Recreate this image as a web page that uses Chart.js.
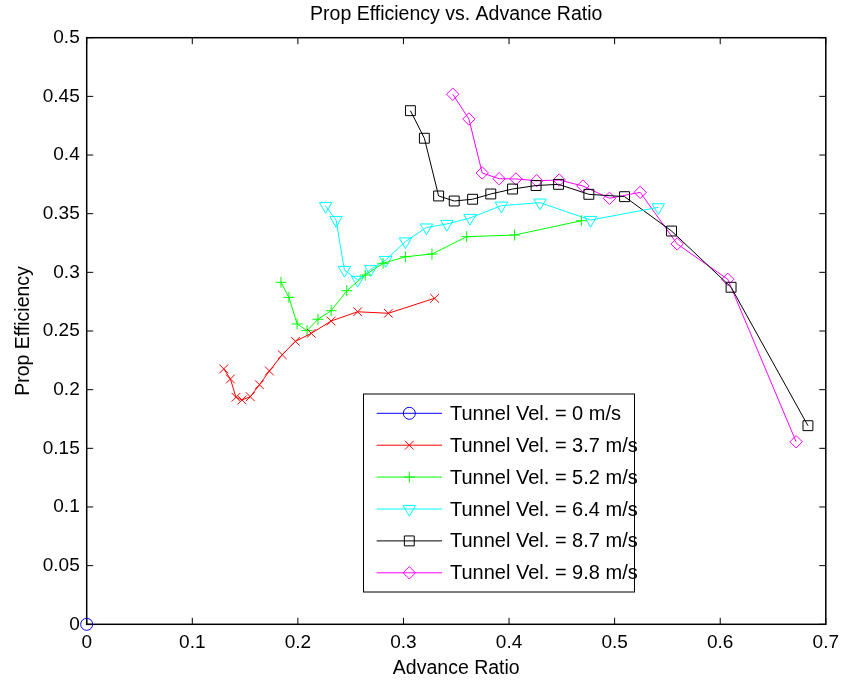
<!DOCTYPE html>
<html>
<head>
<meta charset="utf-8">
<title>Prop Efficiency vs. Advance Ratio</title>
<script src="https://cdn.jsdelivr.net/npm/chart.js@4/dist/chart.umd.min.js"></script>
<style>
  html, body { margin: 0; padding: 0; background: #fff; }
</style>
</head>
<body>
<canvas id="propChart" width="846" height="680"></canvas>
<script>
// advance ratio (J) and prop efficiency for every tunnel velocity
const jV00 = [0];
const etaV00 = [0];

const jV37 = [0.1298, 0.1361, 0.1414, 0.1470, 0.1549, 0.1636, 0.1730, 0.1852, 0.1977, 0.2127, 0.2315, 0.2566, 0.2857, 0.3295];
const etaV37 = [0.2177, 0.2091, 0.1935, 0.1912, 0.1940, 0.2042, 0.2159, 0.2298, 0.2412, 0.2480, 0.2585, 0.2664, 0.2651, 0.2779];

const jV52 = [0.1840, 0.1915, 0.1993, 0.2087, 0.2190, 0.2315, 0.2463, 0.2638, 0.2807, 0.3019, 0.3270, 0.3599, 0.4052, 0.4685];
const etaV52 = [0.2915, 0.2787, 0.2560, 0.2503, 0.2600, 0.2673, 0.2843, 0.2977, 0.3077, 0.3133, 0.3156, 0.3304, 0.3318, 0.3440];

const jV64 = [0.2263, 0.2362, 0.2441, 0.2566, 0.2691, 0.2832, 0.3019, 0.3218, 0.3411, 0.3630, 0.3927, 0.4293, 0.4772, 0.5414];
const etaV64 = [0.3565, 0.3446, 0.3020, 0.2935, 0.3026, 0.3105, 0.3263, 0.3382, 0.3412, 0.3463, 0.3568, 0.3594, 0.3446, 0.3554];

const jV87 = [0.3066, 0.3198, 0.3333, 0.3481, 0.3655, 0.3827, 0.4033, 0.4256, 0.4469, 0.4756, 0.5094, 0.5539, 0.6103, 0.6831];
const etaV87 = [0.4378, 0.4143, 0.3651, 0.3608, 0.3623, 0.3668, 0.3710, 0.3740, 0.3750, 0.3665, 0.3645, 0.3352, 0.2873, 0.1693];

const jV98 = [0.3467, 0.3620, 0.3746, 0.3906, 0.4065, 0.4262, 0.4475, 0.4700, 0.4951, 0.5242, 0.5592, 0.6071, 0.6719];
const etaV98 = [0.4518, 0.4307, 0.3847, 0.3798, 0.3796, 0.3781, 0.3787, 0.3736, 0.3631, 0.3682, 0.3242, 0.2941, 0.1556];

const seriesLabels = [
  'Tunnel Vel. = 0 m/s',
  'Tunnel Vel. = 3.7 m/s',
  'Tunnel Vel. = 5.2 m/s',
  'Tunnel Vel. = 6.4 m/s',
  'Tunnel Vel. = 8.7 m/s',
  'Tunnel Vel. = 9.8 m/s'
];
const xTickValues = [0, 0.1, 0.2, 0.3, 0.4, 0.5, 0.6, 0.7];
const yTickValues = [0, 0.05, 0.1, 0.15, 0.2, 0.25, 0.3, 0.35, 0.4, 0.45, 0.5];

// styles (matlab-ish markers)
const FONT = '"Liberation Sans", Arial, Helvetica, sans-serif';
const lineStyles = [
  { color: '#0000ff', marker: 'circle', radius: 6, rotation: 0 },
  { color: '#ff0000', marker: 'crossRot', radius: 6.2, rotation: 0 },
  { color: '#00ff00', marker: 'cross', radius: 5.5, rotation: 0 },
  { color: '#00ffff', marker: 'triangle', radius: 7.2, rotation: 180 },
  { color: '#000000', marker: 'rect', radius: 7, rotation: 0 },
  { color: '#ff00ff', marker: 'rectRot', radius: 6.2, rotation: 0 }
];

const xSeries = [jV00, jV37, jV52, jV64, jV87, jV98];
const ySeries = [etaV00, etaV37, etaV52, etaV64, etaV87, etaV98];

function fmtTick(v) {
  return String(Number(v.toFixed(2)));
}

const datasets = xSeries.map((xs, i) => ({
  label: seriesLabels[i],
  data: xs.map((x, k) => ({ x: x, y: ySeries[i][k] })),
  showLine: true,
  borderColor: lineStyles[i].color,
  borderWidth: 1,
  backgroundColor: 'transparent',
  pointStyle: lineStyles[i].marker,
  pointRadius: lineStyles[i].radius,
  pointRotation: lineStyles[i].rotation,
  pointBorderColor: lineStyles[i].color,
  pointBackgroundColor: 'transparent',
  pointBorderWidth: 1,
  tension: 0,
  clip: false
}));

// box around the axes plus the inward tick marks on all 4 sides
const frameTicks = {
  id: 'frameTicks',
  beforeDatasetsDraw(chart) {
    const ctx = chart.ctx;
    const a = chart.chartArea;
    const tl = 6.5;
    ctx.save();
    ctx.strokeStyle = '#000';
    ctx.lineWidth = 1;
    ctx.beginPath();
    xTickValues.forEach(v => {
      const px = chart.scales.x.getPixelForValue(v);
      ctx.moveTo(px, a.bottom); ctx.lineTo(px, a.bottom - tl);
      ctx.moveTo(px, a.top); ctx.lineTo(px, a.top + tl);
    });
    yTickValues.forEach(v => {
      const py = chart.scales.y.getPixelForValue(v);
      ctx.moveTo(a.left, py); ctx.lineTo(a.left + tl, py);
      ctx.moveTo(a.right, py); ctx.lineTo(a.right - tl, py);
    });
    ctx.stroke();
    ctx.lineWidth = 1.5;
    ctx.strokeRect(a.left, a.top, a.right - a.left, a.bottom - a.top);
    ctx.restore();
  }
};

// legend box drawn inside the plot like matlab does
const boxLegend = {
  id: 'boxLegend',
  afterDatasetsDraw(chart) {
    const ctx = chart.ctx;
    const bx = 363.5, by = 394, bw = 271, bh = 198;
    const rowGap = 31.9;
    const firstRow = by + 19.3;
    ctx.save();
    ctx.fillStyle = '#fff';
    ctx.fillRect(bx, by, bw, bh);
    ctx.strokeStyle = '#000';
    ctx.lineWidth = 1;
    ctx.strokeRect(bx, by, bw, bh);
    chart.data.datasets.forEach((ds, i) => {
      const y = firstRow + i * rowGap;
      ctx.strokeStyle = ds.borderColor;
      ctx.lineWidth = 1;
      ctx.beginPath();
      ctx.moveTo(bx + 13.2, y);
      ctx.lineTo(bx + 78.5, y);
      ctx.stroke();
      ctx.fillStyle = 'transparent';
      Chart.helpers.drawPoint(ctx, {
        pointStyle: ds.pointStyle,
        radius: ds.pointRadius,
        rotation: ds.pointRotation,
        borderWidth: 1
      }, bx + 45.8, y);
      ctx.fillStyle = '#000';
      ctx.font = '20px ' + FONT;
      ctx.textBaseline = 'middle';
      ctx.textAlign = 'left';
      ctx.fillText(ds.label, bx + 86.5, y + 1);
    });
    ctx.restore();
  }
};

const chart = new Chart(document.getElementById('propChart'), {
  type: 'scatter',
  data: { datasets: datasets },
  options: {
    responsive: false,
    animation: false,
    devicePixelRatio: 1,
    layout: { padding: { top: 0, right: 13.7, bottom: 0, left: 0 } },
    plugins: {
      legend: { display: false },
      tooltip: { enabled: false },
      title: {
        display: true,
        fullSize: false,
        text: 'Prop Efficiency vs. Advance Ratio',
        color: '#000',
        font: { family: FONT, size: 19.5, weight: 'normal' },
        padding: { top: 3, bottom: 11.3 }
      }
    },
    scales: {
      x: {
        type: 'linear',
        min: 0,
        max: 0.7,
        grid: { display: false, drawTicks: false },
        border: { display: false },
        afterBuildTicks: s => { s.ticks = xTickValues.map(v => ({ value: v })); },
        afterFit: s => { s.height = 55.7; },
        ticks: {
          color: '#000',
          padding: 7,
          maxRotation: 0,
          font: { family: FONT, size: 19 },
          callback: v => fmtTick(v)
        },
        title: {
          display: true,
          text: 'Advance Ratio',
          color: '#000',
          font: { family: FONT, size: 19.5 },
          padding: { top: 5, bottom: 0 }
        }
      },
      y: {
        type: 'linear',
        min: 0,
        max: 0.5,
        grid: { display: false, drawTicks: false },
        border: { display: false },
        afterBuildTicks: s => { s.ticks = yTickValues.map(v => ({ value: v })); },
        afterFit: s => { s.width = 86.7; },
        ticks: {
          color: '#000',
          padding: 7,
          font: { family: FONT, size: 19 },
          callback: v => fmtTick(v)
        },
        title: {
          display: true,
          text: 'Prop Efficiency',
          color: '#000',
          font: { family: FONT, size: 19.5 },
          padding: { top: 12, bottom: 0 }
        }
      }
    }
  },
  plugins: [frameTicks, boxLegend]
});
</script>
</body>
</html>
